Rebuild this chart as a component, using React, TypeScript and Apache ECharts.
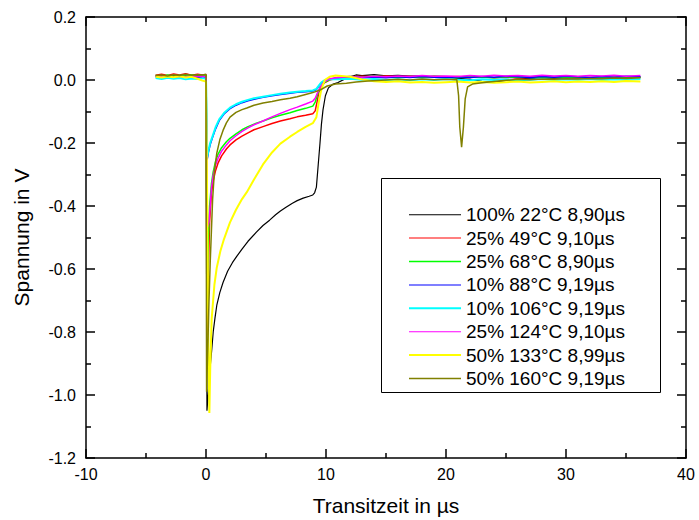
import React, { useEffect, useRef } from "react";
import * as echarts from "echarts";

// Transient voltage traces (time in µs, voltage in V)
const names = [
  "100% 22°C 8,90µs",
  "25% 49°C 9,10µs",
  "25% 68°C 8,90µs",
  "10% 88°C 9,19µs",
  "10% 106°C 9,19µs",
  "25% 124°C 9,10µs",
  "50% 133°C 8,99µs",
  "50% 160°C 9,19µs",
];

const colors = ["#000000", "#ff0000", "#00ff00", "#0000ff", "#00ffff", "#ff00ff", "#ffff00", "#808000"];
// legend swatch thickness and plotted trace thickness
const legendWidths = [1, 1, 1.5, 1, 2, 1, 2, 1.5];
const traceWidths = [1.2, 1.5, 1.5, 1.5, 2, 1.5, 2, 1.5];

const trace22 = [
  [-4.2, 0.012], [-3.7, 0.015], [-3.2, 0.011], [-2.7, 0.014], [-2.2, 0.012], [-1.7, 0.016], [-1.2, 0.013], [-0.7, 0.015], [-0.3, 0.012], [0.0, 0.014],
  [0.08, -1.05], [0.2, -0.99], [0.3, -0.93], [0.47, -0.86], [0.6, -0.8], [0.75, -0.755], [0.9, -0.715], [1.15, -0.675], [1.42, -0.643], [1.8, -0.607],
  [2.2, -0.58], [2.56, -0.56], [3.0, -0.537], [3.5, -0.512], [4.2, -0.483], [4.75, -0.462], [5.3, -0.445], [5.8, -0.428], [6.2, -0.416], [6.7, -0.403],
  [7.2, -0.391], [7.6, -0.383], [8.1, -0.375], [8.6, -0.369], [8.9, -0.365], [9.05, -0.358], [9.2, -0.34], [9.35, -0.27], [9.5, -0.2], [9.62, -0.14],
  [9.75, -0.095], [9.95, -0.05], [10.2, -0.025], [10.6, -0.013], [11.0, -0.008], [11.5, 0.002], [12.0, 0.01], [12.5, 0.016], [13, 0.014], [14, 0.017],
  [15, 0.013], [16, 0.015], [17, 0.012], [18, 0.013], [19, 0.009], [20, 0.008], [21, 0.005], [22, 0.002], [23, -0.004], [24, -0.007],
  [25, -0.001], [26, 0.003], [27, 0.005], [28, 0.003], [29, 0.006], [30, 0.005], [31, 0.007], [32, 0.006], [33, 0.008], [34, 0.007],
  [35, 0.009], [36.2, 0.01],
];

const trace49 = [
  [-4.2, 0.015], [-3.7, 0.018], [-3.2, 0.014], [-2.7, 0.019], [-2.2, 0.016], [-1.7, 0.02], [-1.2, 0.015], [-0.7, 0.018], [-0.3, 0.016], [0.0, 0.017],
  [0.1, -0.81], [0.2, -0.6], [0.3, -0.45], [0.45, -0.36], [0.6, -0.32], [0.8, -0.287], [1.0, -0.264], [1.3, -0.241], [1.7, -0.219], [2.0, -0.206],
  [2.5, -0.19], [3.0, -0.178], [3.5, -0.168], [4.0, -0.158], [4.75, -0.148], [5.5, -0.138], [6.2, -0.13], [7.0, -0.123], [7.6, -0.117], [8.3, -0.112],
  [8.9, -0.107], [9.1, -0.098], [9.25, -0.07], [9.4, -0.04], [9.6, -0.02], [9.9, -0.008], [10.3, 0.0], [11, 0.006], [12, 0.01], [13, 0.012],
  [14, 0.01], [15, 0.013], [16, 0.01], [17, 0.012], [18, 0.009], [19, 0.012], [20, 0.01], [21, 0.011], [22, 0.008], [23, 0.01],
  [24, 0.007], [25, 0.009], [26, 0.006], [27, 0.008], [28, 0.01], [29, 0.007], [30, 0.009], [31, 0.006], [32, 0.008], [33, 0.007],
  [34, 0.009], [35, 0.006], [36.2, 0.008],
];

const trace68 = [
  [-4.2, 0.014], [-3.7, 0.011], [-3.2, 0.016], [-2.7, 0.012], [-2.2, 0.015], [-1.7, 0.013], [-1.2, 0.016], [-0.7, 0.012], [-0.3, 0.015], [0.0, 0.013],
  [0.1, -0.68], [0.2, -0.5], [0.3, -0.4], [0.45, -0.33], [0.6, -0.292], [0.8, -0.258], [1.0, -0.236], [1.3, -0.215], [1.7, -0.196], [2.0, -0.185],
  [2.5, -0.171], [3.0, -0.158], [3.5, -0.148], [4.0, -0.14], [4.75, -0.13], [5.5, -0.12], [6.2, -0.112], [7.0, -0.104], [7.6, -0.097], [8.3, -0.09],
  [8.9, -0.083], [9.1, -0.07], [9.3, -0.045], [9.5, -0.025], [9.8, -0.01], [10.2, 0.0], [11, 0.008], [12, 0.011], [13, 0.009], [14, 0.012],
  [15, 0.01], [16, 0.008], [17, 0.011], [18, 0.009], [19, 0.012], [20, 0.01], [21, 0.008], [22, 0.011], [23, 0.009], [24, 0.007],
  [25, 0.01], [26, 0.008], [27, 0.01], [28, 0.007], [29, 0.009], [30, 0.008], [31, 0.01], [32, 0.007], [33, 0.009], [34, 0.008],
  [35, 0.01], [36.2, 0.009],
];

const trace88 = [
  [-4.2, 0.01], [-3.7, 0.008], [-3.2, 0.011], [-2.7, 0.009], [-2.2, 0.012], [-1.7, 0.008], [-1.2, 0.01], [-0.7, 0.007], [-0.3, 0.009], [0.0, 0.008],
  [0.1, -0.252], [0.2, -0.23], [0.35, -0.205], [0.55, -0.182], [0.8, -0.155], [1.1, -0.129], [1.5, -0.108], [2.0, -0.091], [2.5, -0.08], [3.0, -0.072],
  [3.5, -0.066], [4.0, -0.061], [4.75, -0.055], [5.5, -0.05], [6.2, -0.046], [7.0, -0.042], [7.6, -0.039], [8.3, -0.037], [8.9, -0.035], [9.2, -0.03],
  [9.4, -0.02], [9.6, -0.01], [9.9, -0.002], [10.3, 0.003], [11, 0.006], [12, 0.008], [13, 0.007], [14, 0.009], [15, 0.007], [16, 0.01],
  [17, 0.008], [18, 0.011], [19, 0.009], [20, 0.007], [21, 0.01], [22, 0.008], [23, 0.011], [24, 0.009], [25, 0.012], [26, 0.01],
  [27, 0.008], [28, 0.011], [29, 0.009], [30, 0.012], [31, 0.01], [32, 0.008], [33, 0.011], [34, 0.009], [35, 0.012], [36.2, 0.01],
];

const trace106 = [
  [-4.2, 0.006], [-3.7, 0.003], [-3.2, 0.007], [-2.7, 0.004], [-2.2, 0.006], [-1.7, 0.002], [-1.2, 0.005], [-0.7, 0.003], [-0.3, 0.006], [0.0, 0.004],
  [0.1, -0.245], [0.2, -0.225], [0.35, -0.2], [0.55, -0.178], [0.8, -0.15], [1.1, -0.125], [1.5, -0.105], [2.0, -0.088], [2.5, -0.077], [3.0, -0.069],
  [3.5, -0.063], [4.0, -0.058], [4.75, -0.053], [5.5, -0.048], [6.2, -0.044], [7.0, -0.04], [7.6, -0.037], [8.3, -0.035], [8.9, -0.033], [9.2, -0.028],
  [9.4, -0.018], [9.6, -0.008], [9.9, 0.0], [10.3, 0.003], [11, 0.002], [12, 0.004], [13, 0.001], [14, 0.003], [15, 0.0], [16, 0.002],
  [17, -0.001], [18, 0.002], [19, 0.0], [20, 0.003], [21, 0.001], [22, -0.001], [23, 0.002], [24, 0.0], [25, 0.002], [26, -0.001],
  [27, 0.001], [28, 0.003], [29, 0.0], [30, 0.002], [31, 0.001], [32, 0.003], [33, 0.0], [34, 0.002], [35, 0.001], [36.2, 0.003],
];

const trace124 = [
  [-4.2, 0.012], [-3.7, 0.01], [-3.2, 0.013], [-2.7, 0.009], [-2.2, 0.012], [-1.7, 0.01], [-1.2, 0.013], [-0.7, 0.011], [-0.3, 0.012], [0.0, 0.01],
  [0.1, -0.47], [0.25, -0.45], [0.35, -0.4], [0.45, -0.345], [0.6, -0.302], [0.8, -0.27], [1.0, -0.249], [1.3, -0.226], [1.7, -0.206], [2.0, -0.193],
  [2.5, -0.177], [3.0, -0.163], [3.5, -0.152], [4.0, -0.142], [4.75, -0.13], [5.5, -0.117], [6.2, -0.106], [7.0, -0.094], [7.6, -0.086], [8.3, -0.076],
  [8.9, -0.067], [9.1, -0.058], [9.3, -0.04], [9.5, -0.025], [9.8, -0.008], [10.2, 0.003], [11, 0.008], [12, 0.011], [13, 0.009], [14, 0.012],
  [15, 0.01], [16, 0.013], [17, 0.011], [18, 0.014], [19, 0.012], [20, 0.013], [21, 0.011], [22, 0.014], [23, 0.012], [24, 0.015],
  [25, 0.013], [26, 0.014], [27, 0.012], [28, 0.015], [29, 0.013], [30, 0.014], [31, 0.012], [32, 0.014], [33, 0.013], [34, 0.015],
  [35, 0.012], [36.2, 0.014],
];

const trace133 = [
  [-4.2, 0.01], [-3.7, 0.008], [-3.2, 0.011], [-2.7, 0.009], [-2.2, 0.012], [-1.7, 0.008], [-1.2, 0.01], [-0.7, 0.004], [-0.3, -0.002], [0.0, -0.005],
  [0.1, -0.4], [0.2, -0.85], [0.28, -1.057], [0.35, -0.92], [0.47, -0.76], [0.7, -0.65], [0.9, -0.595], [1.2, -0.543], [1.5, -0.505], [2.0, -0.452],
  [2.5, -0.412], [3.0, -0.378], [3.4, -0.356], [4.0, -0.316], [4.75, -0.268], [5.5, -0.23], [6.2, -0.202], [7.0, -0.18], [7.6, -0.165], [8.3, -0.149],
  [8.9, -0.137], [9.2, -0.118], [9.4, -0.07], [9.6, -0.032], [9.9, 0.0], [10.3, 0.01], [10.8, 0.014], [11.5, 0.012], [12, 0.01], [13, 0.002],
  [14, -0.004], [15, -0.006], [16, -0.004], [17, -0.008], [18, -0.006], [19, -0.009], [20, -0.007], [21, -0.005], [22, -0.008], [23, -0.006],
  [24, -0.009], [25, -0.007], [26, -0.005], [27, -0.008], [28, -0.006], [29, -0.004], [30, -0.007], [31, -0.005], [32, -0.006], [33, -0.004],
  [34, -0.006], [35, -0.003], [36.2, -0.005],
];

const trace160 = [
  [-4.2, 0.014], [-3.7, 0.016], [-3.2, 0.013], [-2.7, 0.017], [-2.2, 0.014], [-1.7, 0.018], [-1.2, 0.015], [-0.7, 0.017], [-0.3, 0.016], [0.0, 0.018],
  [0.05, -0.99], [0.15, -0.85], [0.25, -0.7], [0.35, -0.58], [0.45, -0.48], [0.55, -0.38], [0.7, -0.29], [0.9, -0.232], [1.15, -0.19], [1.42, -0.16],
  [1.7, -0.136], [2.0, -0.118], [2.5, -0.103], [3.0, -0.094], [3.4, -0.089], [4.0, -0.08], [4.75, -0.073], [5.5, -0.068], [6.2, -0.063], [7.0, -0.058],
  [7.6, -0.053], [8.3, -0.046], [8.9, -0.04], [9.5, -0.032], [10.1, -0.019], [10.8, -0.013], [11.7, -0.01], [12.5, -0.006], [13.5, -0.003], [15, 0.0],
  [16, 0.002], [17, 0.0], [18, 0.003], [19, 0.001], [20, 0.002], [20.9, 0.001], [21.05, -0.05], [21.15, -0.15], [21.3, -0.213], [21.45, -0.15],
  [21.6, -0.06], [21.8, -0.022], [22.2, -0.013], [23, -0.009], [24, -0.005], [25, -0.001], [26, 0.002], [27, 0.001], [28, 0.003], [29, 0.002],
  [30, 0.004], [31, 0.003], [32, 0.005], [33, 0.004], [34, 0.006], [35, 0.005], [36.2, 0.007],
];

const traces = [trace22, trace49, trace68, trace88, trace106, trace124, trace133, trace160];

const xTicks = { min: -10, max: 40, interval: 10 };
const yTicks = { min: -1.2, max: 0.2, interval: 0.2 };

const FONT = "'Liberation Sans', Arial, Helvetica, sans-serif";

const axisStyle = {
  axisLine: { show: true, onZero: false, lineStyle: { color: "#000", width: 1.5 } },
  axisTick: { show: true, inside: true, length: 9, lineStyle: { color: "#000", width: 1.5 } },
  minorTick: { show: true, splitNumber: 2, length: 5, lineStyle: { color: "#000", width: 1.5 } },
  splitLine: { show: false },
  minorSplitLine: { show: false },
};

function buildOption() {
  return {
    animation: false,
    backgroundColor: "#ffffff",
    grid: { left: 86, right: 13, top: 17, bottom: 62, containLabel: false, outerBoundsMode: "none" },
    graphic: [
      {
        type: "rect",
        z: 1,
        silent: true,
        shape: { x: 381.5, y: 178.5, width: 279, height: 214 },
        style: { fill: "#ffffff", stroke: "#000000", lineWidth: 1 },
      },
    ],
    legend: {
      orient: "vertical",
      left: 409,
      top: 203,
      padding: 0,
      itemGap: 0,
      itemWidth: 52,
      itemHeight: 14,
      selectedMode: false,
      textStyle: { fontSize: 19, lineHeight: 23.4, fontFamily: FONT, color: "#000" },
      data: names.map((n, i) => ({ name: n, icon: `path://M0,0H52V${legendWidths[i]}H0Z` })),
    },
    xAxis: [
      {
        type: "value",
        position: "bottom",
        ...xTicks,
        ...axisStyle,
        axisLabel: { fontSize: 16, color: "#000", margin: 8, fontFamily: FONT },
        name: "Transitzeit in µs",
        nameLocation: "middle",
        nameGap: 37,
        nameTextStyle: { fontSize: 21, color: "#000", fontFamily: FONT },
      },
      {
        type: "value",
        position: "top",
        ...xTicks,
        ...axisStyle,
        axisLabel: { show: false },
      },
    ],
    yAxis: [
      {
        type: "value",
        position: "left",
        ...yTicks,
        ...axisStyle,
        axisLabel: {
          fontSize: 16,
          color: "#000",
          margin: 10,
          fontFamily: FONT,
          formatter: (v: number) => v.toFixed(1),
        },
        name: "Spannung in V",
        nameLocation: "middle",
        nameGap: 54,
        nameTextStyle: { fontSize: 21, color: "#000", fontFamily: FONT },
      },
      {
        type: "value",
        position: "right",
        ...yTicks,
        ...axisStyle,
        axisLabel: { show: false },
      },
    ],
    series: traces.map((data, i) => ({
      name: names[i],
      type: "line",
      xAxisIndex: 0,
      yAxisIndex: 0,
      data,
      symbol: "none",
      showSymbol: false,
      silent: true,
      z: 2 + i * 0.01,
      lineStyle: { color: colors[i], width: traceWidths[i] },
      itemStyle: { color: colors[i] },
    })),
  };
}

export default function App() {
  const ref = useRef<HTMLDivElement>(null);

  useEffect(() => {
    if (!ref.current) return;
    const chart = echarts.init(ref.current, null, { renderer: "svg" });
    chart.setOption(buildOption() as any);
    return () => chart.dispose();
  }, []);

  return (
    <div
      ref={ref}
      style={{ position: "fixed", left: 0, top: 0, width: 699, height: 520, background: "#fff" }}
    />
  );
}
